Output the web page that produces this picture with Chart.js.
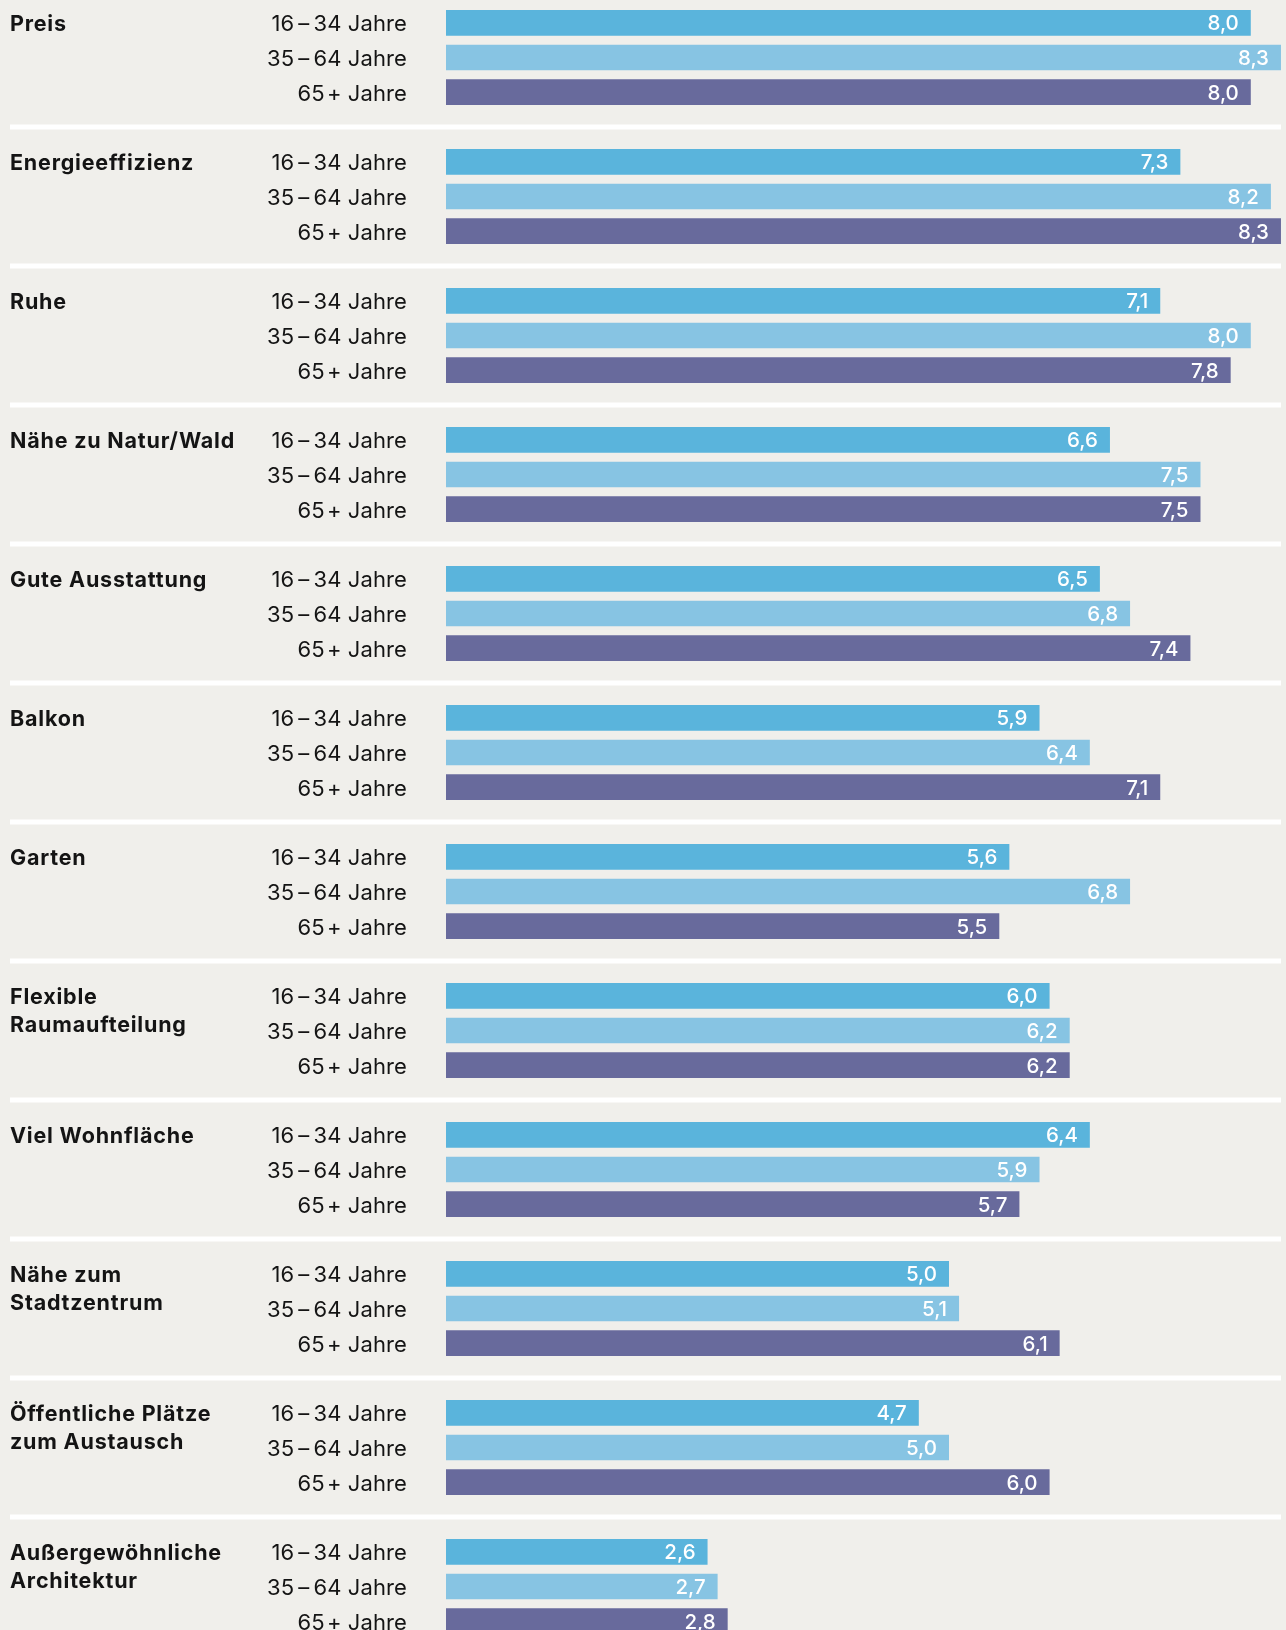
<!DOCTYPE html>
<html lang="de">
<head>
<meta charset="utf-8">
<script src="https://cdn.jsdelivr.net/npm/chart.js@4/dist/chart.umd.min.js"></script>
<style>
  html, body { margin: 0; padding: 0; background: #F0EFEB; overflow: hidden; width: 1286px; height: 1630px; }
  #wrap { position: absolute; left: 0; top: -12px; width: 1286px; height: 1668px; }
</style>
</head>
<body>
<div id="wrap"><canvas id="c" width="1286" height="1668"></canvas></div>
<script>
const categories = [
  ["Preis"],
  ["Energieeffizienz"],
  ["Ruhe"],
  ["Nähe zu Natur/Wald"],
  ["Gute Ausstattung"],
  ["Balkon"],
  ["Garten"],
  ["Flexible", "Raumaufteilung"],
  ["Viel Wohnfläche"],
  ["Nähe zum", "Stadtzentrum"],
  ["Öffentliche Plätze", "zum Austausch"],
  ["Außergewöhnliche", "Architektur"]
];
const seriesLabels = ["16\u2009\u2013\u200934 Jahre", "35\u2009\u2013\u200964 Jahre", "65\u200a+ Jahre"];
const age16to34 = [8.0, 7.3, 7.1, 6.6, 6.5, 5.9, 5.6, 6.0, 6.4, 5.0, 4.7, 2.6];
const age35to64 = [8.3, 8.2, 8.0, 7.5, 6.8, 6.4, 6.8, 6.2, 5.9, 5.1, 5.0, 2.7];
const age65plus = [8.0, 8.3, 7.8, 7.5, 7.4, 7.1, 5.5, 6.2, 5.7, 6.1, 6.0, 2.8];
const colors = ["#5AB4DC", "#87C4E3", "#686A9C"];

const FONT = "Inter, 'Noto Sans', 'DejaVu Sans', sans-serif";

const labelPlugin = {
  id: "labels",
  beforeDatasetsDraw(chart) {
    const ctx = chart.ctx;
    const y = chart.scales.y;
    ctx.save();
    ctx.fillStyle = "#FFFFFF";
    for (let i = 0; i < categories.length; i++) {
      const half = (y.getPixelForValue(1) - y.getPixelForValue(0)) / 2;
      const yb = y.getPixelForValue(i) + half;
      ctx.fillRect(10, yb - 2.5, 1271, 5);
    }
    ctx.restore();
  },
  afterDatasetsDraw(chart) {
    const ctx = chart.ctx;
    ctx.save();
    chart.data.datasets.forEach((ds, d) => {
      const meta = chart.getDatasetMeta(d);
      meta.data.forEach((bar, i) => {
        ctx.letterSpacing = "0.1px";
        ctx.font = "400 22px " + FONT;
        ctx.fillStyle = "#141414";
        ctx.textAlign = "right";
        ctx.textBaseline = "alphabetic";
        ctx.fillText(ds.label, 407, bar.y + 8.5);
        ctx.letterSpacing = "0px";
        ctx.font = "500 20.5px " + FONT;
        ctx.fillStyle = "#FFFFFF";
        ctx.fillText(ds.data[i].toFixed(1).replace(".", ","), bar.x - 12, bar.y + 7.5);
      });
    });
    const first = chart.getDatasetMeta(0);
    ctx.letterSpacing = "0.8px";
    ctx.font = "700 21.5px " + FONT;
    ctx.fillStyle = "#141414";
    ctx.textAlign = "left";
    categories.forEach((lines, i) => {
      const by = first.data[i].y + 8.5;
      lines.forEach((t, k) => ctx.fillText(t, 10, by + k * 27.7));
    });
    ctx.restore();
  }
};

new Chart(document.getElementById("c"), {
  type: "bar",
  data: {
    labels: categories.map(c => c.join(" ")),
    datasets: [
      { label: seriesLabels[0], data: age16to34, backgroundColor: colors[0] },
      { label: seriesLabels[1], data: age35to64, backgroundColor: colors[1] },
      { label: seriesLabels[2], data: age65plus, backgroundColor: colors[2] }
    ]
  },
  options: {
    indexAxis: "y",
    responsive: false,
    animation: false,
    devicePixelRatio: 1,
    layout: { padding: { left: 446, right: 0, top: 0, bottom: 0 } },
    datasets: { bar: { categoryPercentage: 0.745, barPercentage: 0.745, borderWidth: 0 } },
    plugins: { legend: { display: false }, tooltip: { enabled: false } },
    scales: {
      x: { display: false, min: 0, max: 8.35 },
      y: { display: false, offset: true, grid: { display: false } }
    }
  },
  plugins: [labelPlugin]
});
</script>
</body>
</html>
